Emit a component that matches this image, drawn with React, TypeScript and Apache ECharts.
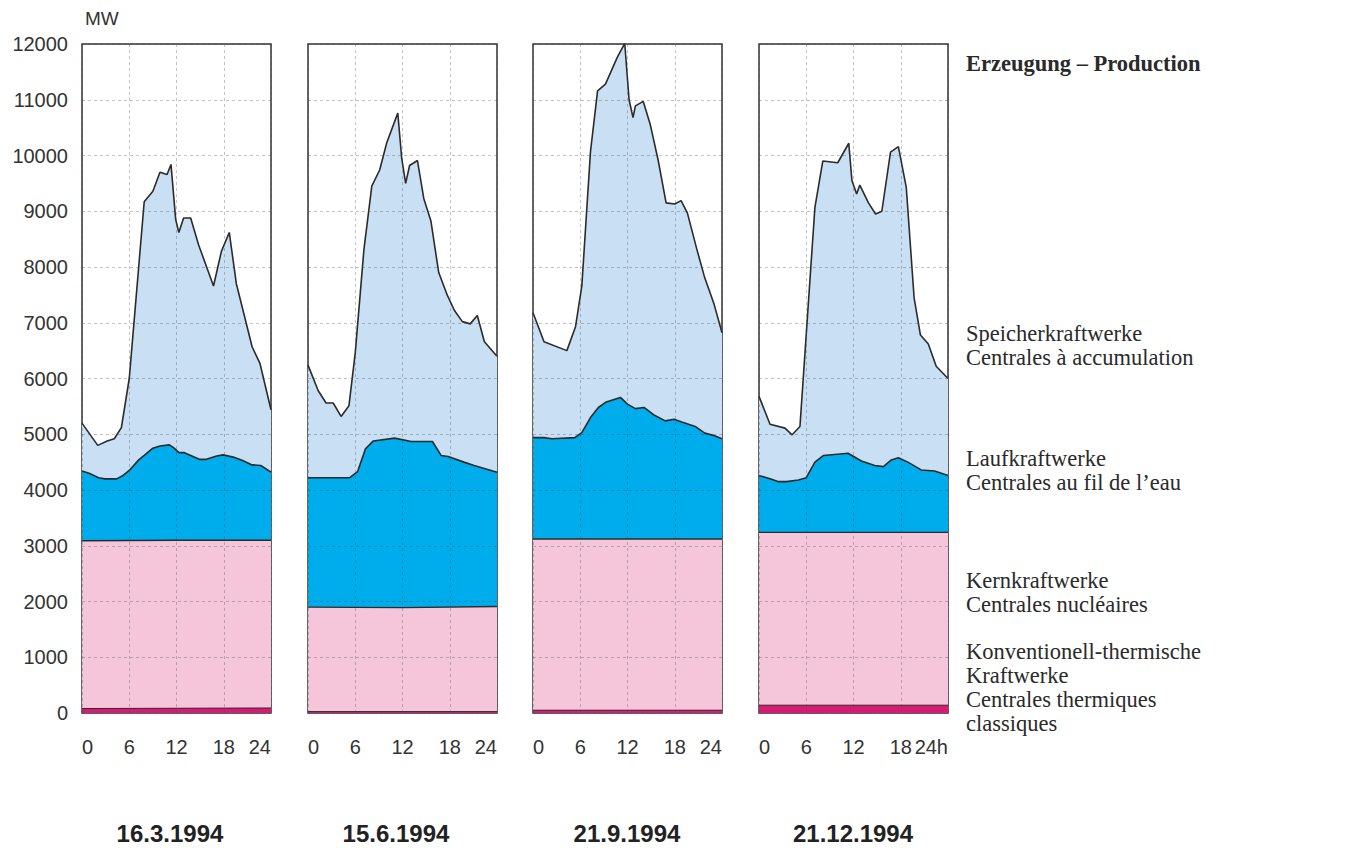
import React, { useEffect, useRef } from "react";
import * as echarts from "echarts";

// ---- Data (hour, MW) : upper boundary of each cumulative layer ----
const dates = ["16.3.1994", "15.6.1994", "21.9.1994", "21.12.1994"];
const yTicks = [0, 1000, 2000, 3000, 4000, 5000, 6000, 7000, 8000, 9000, 10000, 11000, 12000];
const xTicks = [0, 6, 12, 18, 24];

// Speicherkraftwerke (total production line)
const total1 = [[0,5200],[2,4800],[3.2,4880],[4.1,4920],[5,5120],[6,6000],[7.9,9170],[9,9360],[9.9,9700],[10.8,9660],[11.3,9840],[11.9,8850],[12.3,8620],[12.9,8880],[13.8,8880],[14.8,8400],[16.7,7660],[17.7,8280],[18.7,8620],[19.6,7700],[21.6,6570],[22.6,6270],[24,5440]];
const total2 = [[0,6240],[1.3,5780],[2.3,5560],[3.2,5560],[4.2,5320],[5.2,5510],[6,6460],[7.1,8310],[8.1,9450],[9.1,9740],[10,10230],[11.4,10760],[11.9,9950],[12.4,9500],[12.9,9820],[13.9,9910],[14.7,9230],[15.6,8830],[16.6,7900],[17.7,7490],[18.6,7220],[19.6,7020],[20.6,6980],[21.5,7130],[22.4,6660],[24,6400]];
const total3 = [[0,7180],[1.4,6660],[4.3,6500],[5.4,6930],[6.2,7660],[7.3,10070],[8.2,11160],[9.2,11280],[10.7,11760],[11.65,12010],[12.2,11000],[12.7,10680],[13,10890],[14,10970],[14.9,10550],[15.9,9910],[16.9,9150],[18,9130],[18.8,9190],[19.6,8970],[20.8,8320],[21.8,7810],[23,7330],[24,6820]];
const total4 = [[0,5680],[1.4,5180],[3.3,5110],[4.2,4990],[5.2,5140],[7.1,9070],[8.1,9900],[10,9870],[11.4,10220],[11.8,9550],[12.4,9310],[12.8,9470],[13.9,9150],[14.8,8950],[15.6,9000],[16.7,10060],[17.7,10160],[18.7,9430],[19.7,7440],[20.5,6780],[21.5,6620],[22.5,6220],[24,6000]];

// Laufkraftwerke (upper boundary)
const ror1 = [[0,4340],[0.9,4300],[2.1,4220],[2.9,4200],[4.4,4200],[5.1,4250],[6,4350],[7.2,4540],[7.9,4620],[9,4750],[9.9,4790],[11.1,4810],[11.7,4750],[12.3,4670],[13,4670],[14.9,4550],[15.8,4550],[17.1,4610],[17.9,4630],[19.2,4590],[20.4,4530],[21.6,4450],[22.7,4440],[24,4320]];
const ror2 = [[0,4220],[5.3,4220],[6.3,4330],[7.3,4740],[8.3,4880],[11,4930],[13.1,4870],[15.8,4870],[16.9,4620],[17.8,4600],[19.8,4500],[21.1,4440],[24,4320]];
const ror3 = [[0,4940],[1.4,4940],[2.4,4920],[5.3,4940],[6.2,5030],[7.3,5300],[8.3,5480],[9.3,5580],[11.1,5660],[12,5540],[13,5460],[14.1,5480],[15.3,5350],[16.8,5240],[17.9,5270],[18.9,5220],[20.6,5140],[21.8,5020],[22.9,4980],[24,4920]];
const ror4 = [[0,4260],[1.4,4200],[2.5,4150],[3.5,4150],[5,4180],[6,4220],[7.1,4500],[8.2,4620],[11.3,4660],[13,4520],[14.7,4440],[15.8,4420],[16.8,4540],[17.7,4580],[18.9,4500],[20.6,4360],[22.3,4340],[24,4260]];

// Kernkraftwerke (upper boundary)
const nuc1 = [[0,3090],[12,3100],[24,3100]];
const nuc2 = [[0,1900],[12,1890],[24,1910]];
const nuc3 = [[0,3120],[24,3120]];
const nuc4 = [[0,3240],[24,3240]];

// Konventionell-thermische Kraftwerke
const therm1 = [[0,80],[24,90]];
const therm2 = [[0,25],[24,25]];
const therm3 = [[0,50],[24,50]];
const therm4 = [[0,140],[24,140]];

const panels = [
  { total: total1, ror: ror1, nuc: nuc1, therm: therm1 },
  { total: total2, ror: ror2, nuc: nuc2, therm: therm2 },
  { total: total3, ror: ror3, nuc: nuc3, therm: therm3 },
  { total: total4, ror: ror4, nuc: nuc4, therm: therm4 },
];

const COLORS = {
  storage: "#c9dff3",
  ror: "#00adec",
  nuc: "#f5c6da",
  therm: "#d81b72",
  line: "#2b2b2b",
};

const gridLefts = [82, 308, 533, 759];
const GRID_TOP = 44;
const GRID_H = 669;
const GRID_W = 189;

export default function App() {
  const ref = useRef<HTMLDivElement>(null);
  useEffect(() => {
    if (!ref.current) return;
    const chart = echarts.init(ref.current, undefined, { renderer: "svg" });
    const sans = "Liberation Sans, Arial, sans-serif";
    const serif = "Liberation Serif, Times New Roman, serif";

    const grids = gridLefts.map((l) => ({
      left: l, top: GRID_TOP, width: GRID_W, height: GRID_H,
      show: true, borderColor: "#333", borderWidth: 1.5, backgroundColor: "#fff",
    }));

    const splitStyle = { show: true, lineStyle: { color: "rgba(70,70,70,0.33)", type: [3, 3] as any, width: 1 } };

    const xAxes = gridLefts.map((_, i) => ({
      type: "value", gridIndex: i, min: 0, max: 24, interval: 6, z: 3,
      axisLine: { show: false }, axisTick: { show: false },
      splitLine: splitStyle,
      axisLabel: {
        margin: 24, fontSize: 20, color: "#333", fontFamily: sans,
        alignMinLabel: "left", alignMaxLabel: "right",
        formatter: (v: number) => (i === 3 && v === 24 ? "24h" : xTicks.includes(v) ? String(v) : ""),
      },
    }));

    const yAxes = gridLefts.map((_, i) => ({
      type: "value", gridIndex: i, min: yTicks[0], max: yTicks[yTicks.length - 1], interval: 1000, z: 3,
      axisLine: { show: false }, axisTick: { show: false },
      splitLine: splitStyle,
      axisLabel: {
        show: i === 0, margin: 14, fontSize: 20, color: "#333", fontFamily: sans,
        formatter: (v: number) => String(v),
      },
    }));

    const series: any[] = [];
    panels.forEach((p, i) => {
      const mk = (name: string, data: number[][], color: string, lw: number) => ({
        name, type: "line", xAxisIndex: i, yAxisIndex: i, data,
        symbol: "none", smooth: false, z: 2,
        lineStyle: { color: COLORS.line, width: lw },
        areaStyle: { color, opacity: 1, origin: "start" },
      });
      series.push(mk("Speicherkraftwerke", p.total, COLORS.storage, 1.6));
      series.push(mk("Laufkraftwerke", p.ror, COLORS.ror, 1.6));
      series.push(mk("Kernkraftwerke", p.nuc, COLORS.nuc, 1.4));
      series.push(mk("Konventionell-thermische Kraftwerke", p.therm, COLORS.therm, 1));
    });

    const legendText = (text: string, y: number, bold = false) => ({
      type: "text", x: 966, y,
      style: { text, fontSize: 22.5, fontFamily: serif, fontWeight: bold ? "bold" : "normal", fill: "#2a2a2a", verticalAlign: "middle" },
    });

    const graphic: any[] = [
      { type: "text", x: 85, y: 18, style: { text: "MW", fontSize: 19, fontFamily: sans, fill: "#333", verticalAlign: "middle" } },
      legendText("Erzeugung – Production", 63, true),
      legendText("Speicherkraftwerke", 333),
      legendText("Centrales à accumulation", 357),
      legendText("Laufkraftwerke", 458),
      legendText("Centrales au fil de l’eau", 482),
      legendText("Kernkraftwerke", 580),
      legendText("Centrales nucléaires", 604),
      legendText("Konventionell-thermische", 651),
      legendText("Kraftwerke", 675),
      legendText("Centrales thermiques", 699),
      legendText("classiques", 723),
    ];
    const dateCenters = [170, 396, 627, 853];
    dates.forEach((d, i) => {
      graphic.push({
        type: "text", x: dateCenters[i], y: 833,
        style: { text: d, fontSize: 24, fontWeight: "bold", fontFamily: sans, fill: "#222", align: "center", verticalAlign: "middle" },
      });
    });

    chart.setOption({
      animation: false,
      backgroundColor: "#fff",
      grid: grids,
      xAxis: xAxes,
      yAxis: yAxes,
      series,
      graphic,
    });
    return () => chart.dispose();
  }, []);

  return <div ref={ref} style={{ position: "fixed", left: 0, top: 0, width: 1362, height: 848 }} />;
}
